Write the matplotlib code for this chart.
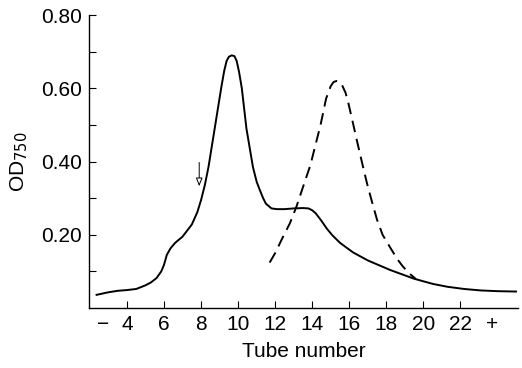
import matplotlib
matplotlib.use("Agg")
import matplotlib.pyplot as plt

plt.rcParams['font.family'] = ['Liberation Sans', 'DejaVu Sans']

# solid curve (absorbance profile)
tube_solid = [2.36, 3.0, 3.5, 4.0, 4.5, 5.0, 5.3, 5.6, 5.85, 6.0, 6.15, 6.35, 6.6,
              7.0, 7.5, 7.8, 8.0, 8.2, 8.4, 8.75, 9.1, 9.25, 9.38, 9.5, 9.65, 9.8,
              9.92, 10.05, 10.2, 10.45, 10.8, 11.0, 11.15, 11.35, 11.5, 11.8, 12.1,
              12.5, 13.0, 13.5, 13.8, 14.0, 14.2, 14.5, 14.8, 15.1, 15.5, 16.2,
              17.0, 18.2, 19.5, 20.5, 21.3, 22.2, 23.1, 24.0, 25.0]
od_solid = [0.036, 0.043, 0.047, 0.049, 0.052, 0.062, 0.070, 0.082, 0.100, 0.118,
            0.145, 0.163, 0.178, 0.195, 0.228, 0.262, 0.295, 0.335, 0.385, 0.495,
            0.605, 0.648, 0.675, 0.686, 0.690, 0.688, 0.675, 0.645, 0.600, 0.490,
            0.385, 0.345, 0.325, 0.300, 0.285, 0.272, 0.270, 0.270, 0.272, 0.273,
            0.272, 0.267, 0.258, 0.238, 0.216, 0.198, 0.178, 0.152, 0.130, 0.104,
            0.080, 0.066, 0.058, 0.052, 0.048, 0.046, 0.045]

# dashed curve
tube_dash = [11.7, 12.0, 12.4, 12.8, 13.15, 13.5, 13.9, 14.2, 14.45, 14.75, 15.0,
             15.15, 15.3, 15.45, 15.6, 15.8, 15.95, 16.2, 16.4, 16.7, 16.95, 17.2,
             17.5, 17.8, 18.2, 18.6, 18.9, 19.3, 19.6]
od_dash = [0.124, 0.150, 0.192, 0.232, 0.277, 0.330, 0.390, 0.450, 0.500, 0.572,
           0.606, 0.617, 0.620, 0.618, 0.610, 0.588, 0.560, 0.505, 0.460, 0.395,
           0.342, 0.295, 0.241, 0.200, 0.166, 0.133, 0.113, 0.092, 0.079]

xtick_pos = [2.7, 4, 6, 8, 10, 12, 14, 16, 18, 20, 22, 23.7]
xtick_labels = ['\u2212', '4', '6', '8', '10', '12', '14', '16', '18', '20', '22', '+']
ytick_pos = [0.20, 0.40, 0.60, 0.80]
ytick_labels = ['0.20', '0.40', '0.60', '0.80']
arrow_tube = 7.9
arrow_from, arrow_to = 0.405, 0.325

fig = plt.figure(figsize=(5.22, 3.68), dpi=100)
ax = fig.add_axes([0.1705, 0.163, 0.8215, 0.796])

ax.plot(tube_solid, od_solid, color='black', lw=1.4)
ax.plot(tube_dash, od_dash, color='black', lw=1.4, dashes=(6, 3.5))

ax.annotate('', xy=(arrow_tube, arrow_to), xytext=(arrow_tube, arrow_from),
            arrowprops=dict(arrowstyle='-|>,head_width=0.2,head_length=0.5',
                            fc='white', ec='black', lw=0.7))

ax.set_xlim(1.95, 25.1)
ax.set_ylim(0, 0.8)

ax.set_xticks(xtick_pos)
ax.set_xticklabels(xtick_labels)
ax.set_yticks(ytick_pos)
ax.set_yticklabels(ytick_labels)
ax.set_yticks([0.1, 0.3, 0.5, 0.7], minor=True)

ax.tick_params(axis='both', direction='in', length=5, width=0.8, labelsize=15, pad=5)
ax.tick_params(axis='y', which='minor', direction='in', length=5, width=0.8)
for t in ax.xaxis.get_major_ticks():
    if t.label1.get_text() in ('\u2212', '+'):
        t.tick1line.set_visible(False)

for s in ['top', 'right']:
    ax.spines[s].set_visible(False)
for s in ['left', 'bottom']:
    ax.spines[s].set_linewidth(1.0)

ax.set_xlabel('Tube number', fontsize=15, labelpad=6)
ax.set_ylabel('OD$_{750}$', fontsize=15, labelpad=8)

fig.savefig('out.png', dpi=100)
